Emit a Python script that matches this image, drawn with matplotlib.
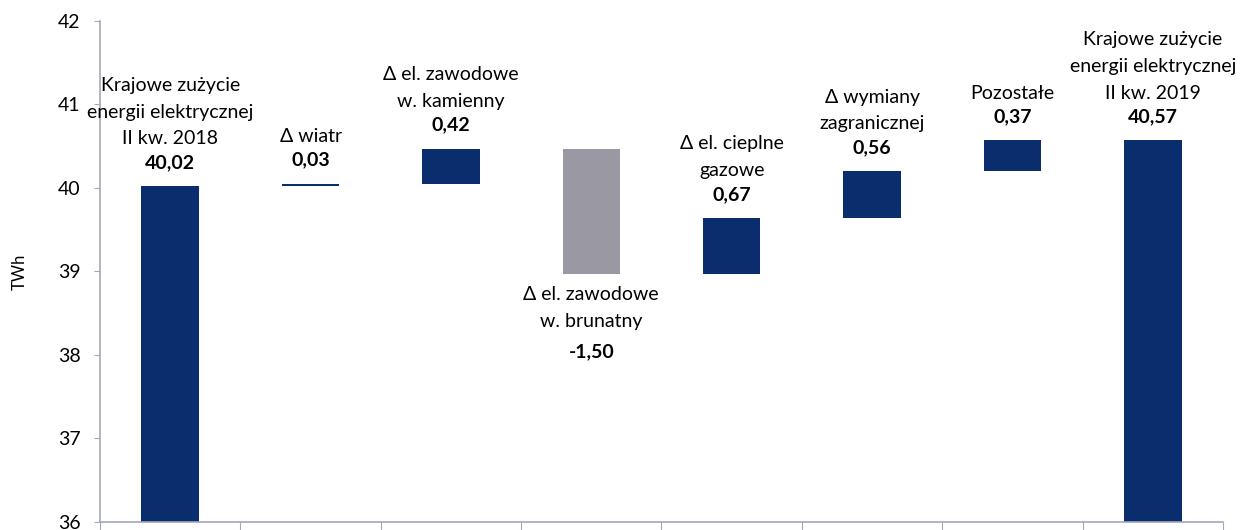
import matplotlib
matplotlib.use("Agg")
import matplotlib.pyplot as plt
import numpy as np

plt.rcParams['font.family'] = ['Lato', 'DejaVu Sans']

# Bilans zużycia energii elektrycznej (TWh)
labels = ['Krajowe zużycie\nenergii elektrycznej\nII kw. 2018',
          'Δ wiatr',
          'Δ el. zawodowe\nw. kamienny',
          'Δ el. zawodowe\nw. brunatny',
          'Δ el. cieplne\ngazowe',
          'Δ wymiany\nzagranicznej',
          'Pozostałe',
          'Krajowe zużycie\nenergii elektrycznej\nII kw. 2019']
start_total = 40.02
changes = [0.03, 0.42, -1.50, 0.67, 0.56, 0.37]
end_total = 40.57

navy = '#0a2d6e'
grey = '#9a98a2'
axis_col = '#a3a6bd'

fig = plt.figure(figsize=(12.52, 5.30), dpi=100)
ax = fig.add_axes([0.0799, 0.0151, 0.8969, 0.9453])

x = np.arange(len(labels))
width = 0.41

# słupki: sumy i przyrosty
bottoms, heights, colors, values = [], [], [], []
bottoms.append(36)
heights.append(start_total - 36)
colors.append(navy)
values.append(start_total)
level = start_total
for c in changes:
    if c >= 0:
        bottoms.append(level)
        heights.append(c)
        colors.append(navy)
    else:
        bottoms.append(level + c)
        heights.append(-c)
        colors.append(grey)
    values.append(c)
    level += c
bottoms.append(36)
heights.append(end_total - 36)
colors.append(navy)
values.append(end_total)

ax.bar(x, heights, bottom=bottoms, width=width, color=colors, zorder=2)

fs = 14
for i, (lab, b, h, v) in enumerate(zip(labels, bottoms, heights, values)):
    val = f'{v:.2f}'.replace('.', ',')
    if v < 0:
        y0 = b
        ax.annotate(val, (i, y0), xytext=(0, -56), textcoords='offset points',
                    ha='center', va='center', fontsize=fs, fontweight='bold')
        ax.annotate(lab, (i, y0), xytext=(0, -9), textcoords='offset points',
                    ha='center', va='top', fontsize=fs, linespacing=1.7)
    else:
        y0 = b + h
        ax.annotate(val, (i, y0), xytext=(0, 17), textcoords='offset points',
                    ha='center', va='center', fontsize=fs, fontweight='bold')
        ax.annotate(lab, (i, y0), xytext=(0, 28), textcoords='offset points',
                    ha='center', va='bottom', fontsize=fs, linespacing=1.7)

ax.set_ylim(36, 42)
ax.set_xlim(-0.5, len(labels) - 0.5)
ax.set_yticks(range(36, 43))
ax.set_xticks(np.arange(-0.5, len(labels)), [''] * (len(labels) + 1))
ax.tick_params(axis='y', labelsize=14, length=4, color=axis_col, pad=10)
ax.tick_params(axis='x', length=6, color=axis_col)
ax.set_ylabel('TWh', fontsize=12, labelpad=22)

for side in ['top', 'right']:
    ax.spines[side].set_visible(False)
for side in ['left', 'bottom']:
    ax.spines[side].set_color(axis_col)
    ax.spines[side].set_linewidth(1.2)

fig.savefig('out.png', dpi=100)
